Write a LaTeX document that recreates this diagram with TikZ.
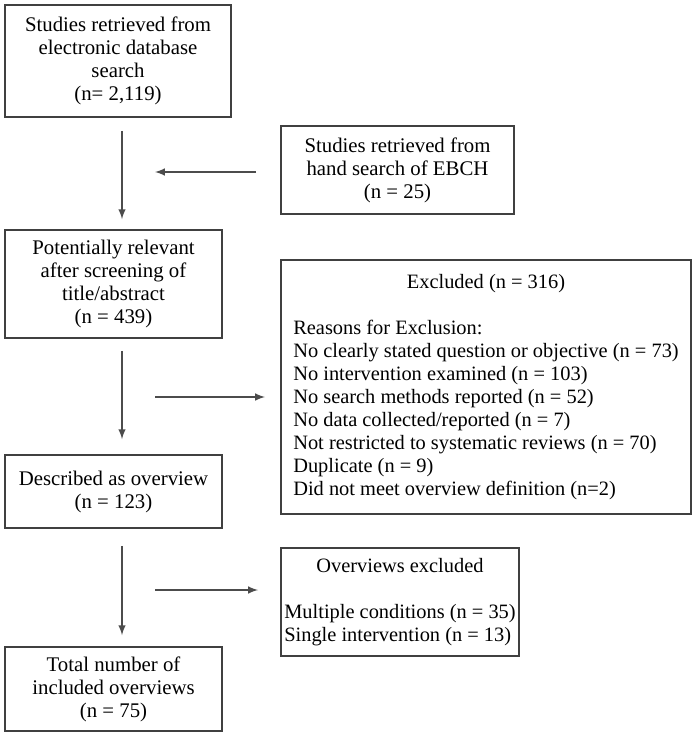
\documentclass[tikz,border=0pt]{standalone}
\usepackage{fontspec}
\setmainfont{Liberation Serif}
\usetikzlibrary{positioning}

\begin{document}
\begin{tikzpicture}
  [x=0.5pt,y=-0.5pt,
   every node/.style={draw=black!75,line width=0.9pt,align=center,inner sep=0pt,
     font=\fontsize{10.4}{11.5}\selectfont},
   listbox/.style={font=\fontsize{10.2}{11.5}\selectfont},
   flow/.style={draw=black!70,line width=0.7pt,-latex}]
  \useasboundingbox (0,0) rectangle (696,737);

  \node[minimum width=113pt,minimum height=56pt] (search) at (118,61)
    {Studies retrieved from\\electronic database\\search\\(n= 2,119)};
  \node[minimum width=116.5pt,minimum height=44pt] (hand) at (397.5,170)
    {Studies retrieved from\\hand search of EBCH\\(n = 25)};
  \node[minimum width=108.5pt,minimum height=54pt] (relevant) at (113.5,284)
    {Potentially relevant\\after screening of\\title/abstract\\(n = 439)};
  \node[listbox,minimum width=205pt,minimum height=127pt] (excl) at (486,387)
    {\begin{tabular}{@{}l@{}}
     \multicolumn{1}{@{}c@{}}{Excluded (n = 316)}\\[11.5pt]
     Reasons for Exclusion:\\
     No clearly stated question or objective (n = 73)\\
     No intervention examined (n = 103)\\
     No search methods reported (n = 52)\\
     No data collected/reported (n = 7)\\
     Not restricted to systematic reviews (n = 70)\\
     Duplicate (n = 9)\\
     Did not meet overview definition (n=2)
     \end{tabular}};
  \node[listbox,minimum width=119pt,minimum height=54pt] (ovexcl) at (400,602)
    {\begin{tabular}{@{}l@{}}
     \multicolumn{1}{@{}c@{}}{Overviews excluded}\\[11.5pt]
     Multiple conditions (n = 35)\\
     Single intervention (n = 13)
     \end{tabular}};
  \node[minimum width=108.5pt,minimum height=36.5pt] (overview) at (113.5,491.5)
    {Described as overview\\(n = 123)};
  \node[minimum width=108.5pt,minimum height=42pt] (final) at (113.5,689)
    {Total number of\\included overviews\\(n = 75)};

  % free ends of the arrows
  \coordinate (col) at (122,0);
  \coordinate (h1) at (155,172);
  \coordinate (h2) at (265,397);
  \coordinate (h3) at (258,590);

  \draw[flow,shorten <=6.5pt,shorten >=5pt] (search.south -| col) -- (relevant.north -| col);
  \draw[flow,shorten <=6pt,shorten >=7.5pt] (relevant.south -| col) -- (overview.north -| col);
  \draw[flow,shorten <=8.5pt,shorten >=5.5pt] (overview.south -| col) -- (final.north -| col);
  \draw[flow,shorten <=12pt] (hand.west |- h1) -- (h1);
  \draw[flow] (h2 -| h1) -- (h2);
  \draw[flow] (h3 -| h1) -- (h3);
\end{tikzpicture}
\end{document}
